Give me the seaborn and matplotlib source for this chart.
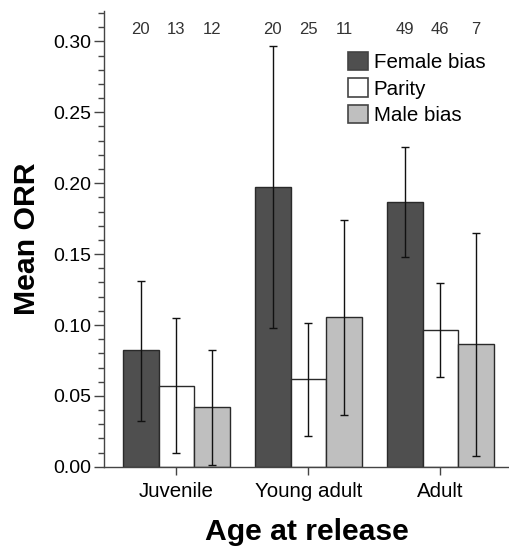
import matplotlib
matplotlib.use("Agg")
import matplotlib.pyplot as plt
import matplotlib.transforms as mtransforms
from matplotlib.ticker import MultipleLocator, FormatStrFormatter
from matplotlib.patches import Patch
import seaborn as sns
import pandas as pd

ages = ["Juvenile", "Young adult", "Adult"]
groups = ["Female bias", "Parity", "Male bias"]
means = {
    "Female bias": [0.0824, 0.197, 0.1868],
    "Parity": [0.0572, 0.0617, 0.0965],
    "Male bias": [0.0421, 0.1055, 0.0864],
}
err_low = {
    "Female bias": [0.0325, 0.0977, 0.148],
    "Parity": [0.0097, 0.0219, 0.0633],
    "Male bias": [0.0012, 0.0365, 0.0078],
}
err_high = {
    "Female bias": [0.131, 0.2965, 0.2257],
    "Parity": [0.105, 0.1012, 0.1294],
    "Male bias": [0.0826, 0.1744, 0.1652],
}
counts = {
    "Female bias": [20, 20, 49],
    "Parity": [13, 25, 46],
    "Male bias": [12, 11, 7],
}
colors = {"Female bias": "#4f4f4f", "Parity": "#ffffff", "Male bias": "#bfbfbf"}

rows = []
for g in groups:
    for i, a in enumerate(ages):
        rows.append({"Age": a, "Group": g, "ORR": means[g][i]})
df = pd.DataFrame(rows)

sns.set_style("white", {"text.color": "black", "axes.labelcolor": "black",
                        "xtick.color": "black", "ytick.color": "black"})
plt.rcParams["font.family"] = ["Liberation Sans", "DejaVu Sans"]

fig = plt.figure(figsize=(5.09, 5.46), dpi=100)
ax = fig.add_axes([0.204, 0.145, 0.796, 0.835])

sns.barplot(data=df, x="Age", y="ORR", hue="Group", order=ages, hue_order=groups,
            palette=colors, errorbar=None, width=0.81, edgecolor="#2a2a2a",
            linewidth=1.0, ax=ax, legend=False)

trans = mtransforms.blended_transform_factory(ax.transData, ax.transAxes)
for g, cont in zip(groups, ax.containers):
    for i, bar in enumerate(cont):
        x = bar.get_x() + bar.get_width() / 2
        m = means[g][i]
        ax.errorbar(x, m, yerr=[[m - err_low[g][i]], [err_high[g][i] - m]],
                    fmt="none", ecolor="#111111", elinewidth=1.0, capsize=3, capthick=1.0)
        ax.text(x, 0.96, str(counts[g][i]), transform=trans, ha="center", va="center",
                fontsize=12, color="#333333")

ax.set_ylim(0, 0.3215)
ax.set_xlim(-0.55, 2.52)
ax.yaxis.set_major_locator(MultipleLocator(0.05))
ax.yaxis.set_minor_locator(MultipleLocator(0.01))
ax.yaxis.set_major_formatter(FormatStrFormatter("%.2f"))
ax.tick_params(axis="y", which="major", left=True, length=7, width=1, color="#444444",
               labelcolor="black", labelsize=14, pad=2)
ax.tick_params(axis="y", which="minor", left=True, length=4, width=1, color="#444444")
ax.tick_params(axis="x", which="major", bottom=True, length=6, width=1, color="#444444",
               labelcolor="black", labelsize=14.8, pad=5)

for s in ["top", "right"]:
    ax.spines[s].set_visible(False)
for s in ["left", "bottom"]:
    ax.spines[s].set_color("#444444")
    ax.spines[s].set_linewidth(1.0)

ax.set_ylabel("Mean ORR", fontsize=21.8, fontweight="bold", labelpad=9, color="black")
ax.set_xlabel("Age at release", fontsize=21.7, fontweight="bold", labelpad=12, color="black")

handles = [Patch(facecolor=colors[g], edgecolor="#444444", linewidth=1.2) for g in groups]
leg = ax.legend(handles, groups, loc="upper left", bbox_to_anchor=(0.603, 0.91), frameon=False,
                fontsize=14.8, handlelength=0.95, handleheight=1.0, handletextpad=0.3,
                labelspacing=0.3, borderpad=0.0, borderaxespad=0.0)
for t in leg.get_texts():
    t.set_color("black")

fig.savefig("out.png", dpi=100)
